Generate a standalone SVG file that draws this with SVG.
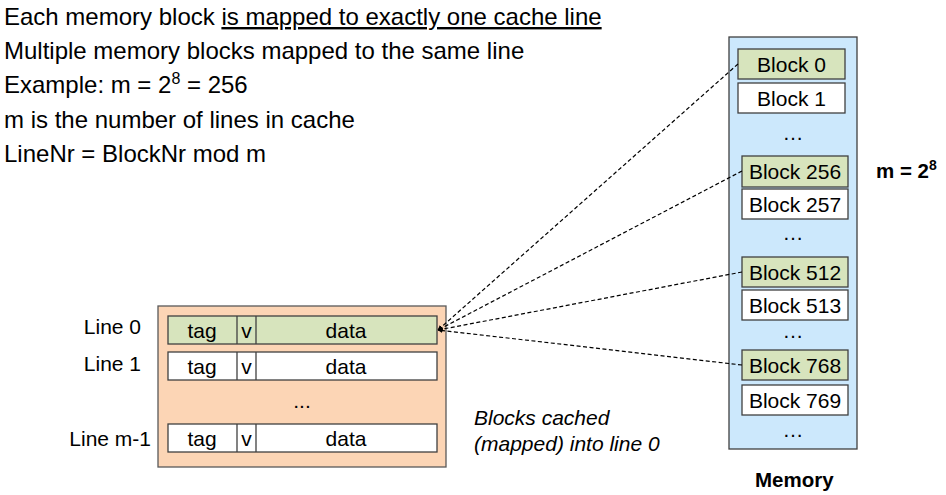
<svg xmlns="http://www.w3.org/2000/svg" width="946" height="495" viewBox="0 0 946 495">
<style>
text{font-family:"Liberation Sans",Arial,sans-serif;fill:#000}
.t{font-size:24px}
.c{font-size:21px;text-anchor:middle}
.lbl{font-size:21px;text-anchor:end}
.b{font-size:20.5px;font-weight:bold}
.i{font-size:21px;font-style:italic}
.g{fill:#d7e4bd;stroke:#404040;stroke-width:1.3}
.w{fill:#fff;stroke:#404040;stroke-width:1.3}
.cn{fill:none;stroke:#000;stroke-width:1.2;stroke-dasharray:4,2.5}
</style>
<defs>
<marker id="ah" viewBox="0 0 10 10" refX="9" refY="5" markerWidth="5" markerHeight="5" orient="auto" markerUnits="userSpaceOnUse">
<path d="M0,0L10,5L0,10z" fill="#000"/>
</marker>
</defs>
<g id="notes">
<text class="t" x="4" y="25">Each memory block <tspan text-decoration="underline">is mapped to exactly one cache line</tspan></text>
<text class="t" x="4" y="59">Multiple memory blocks mapped to the same line</text>
<text class="t" x="4" y="93">Example: m = 2<tspan font-size="16" dy="-9">8</tspan><tspan dy="9"> = 256</tspan></text>
<text class="t" x="4" y="128">m is the number of lines in cache</text>
<text class="t" x="4" y="162">LineNr = BlockNr mod m</text>
</g>
<g id="cache">
<rect x="158" y="306" width="288" height="161" fill="#fcd5b5" stroke="#595959" stroke-width="1.3"/>
<g id="line0">
<rect class="g" x="168" y="316" width="269" height="28"/>
<line x1="237" y1="316" x2="237" y2="344" stroke="#404040" stroke-width="1.3"/>
<line x1="256" y1="316" x2="256" y2="344" stroke="#404040" stroke-width="1.3"/>
<text class="c" x="202" y="338">tag</text><text class="c" x="246.5" y="338">v</text><text class="c" x="346" y="338">data</text>
</g>
<g id="line1">
<rect class="w" x="168" y="352" width="269" height="28"/>
<line x1="237" y1="352" x2="237" y2="380" stroke="#404040" stroke-width="1.3"/>
<line x1="256" y1="352" x2="256" y2="380" stroke="#404040" stroke-width="1.3"/>
<text class="c" x="202" y="374">tag</text><text class="c" x="246.5" y="374">v</text><text class="c" x="346" y="374">data</text>
</g>
<text class="c" x="302" y="408" font-size="18">...</text>
<g id="linem1">
<rect class="w" x="168" y="424" width="269" height="28"/>
<line x1="237" y1="424" x2="237" y2="452" stroke="#404040" stroke-width="1.3"/>
<line x1="256" y1="424" x2="256" y2="452" stroke="#404040" stroke-width="1.3"/>
<text class="c" x="202" y="446">tag</text><text class="c" x="246.5" y="446">v</text><text class="c" x="346" y="446">data</text>
</g>
</g>
<g id="line-labels">
<text class="lbl" x="141" y="334">Line 0</text>
<text class="lbl" x="141" y="371">Line 1</text>
<text class="lbl" x="151" y="446">Line m-1</text>
</g>
<g id="caption">
<text class="i" x="474" y="425">Blocks cached</text>
<text class="i" x="474" y="451">(mapped) into line 0</text>
</g>
<g id="memory">
<rect x="729" y="37" width="128" height="412" fill="#cce8fc" stroke="#404040" stroke-width="1.3"/>
<g id="b0"><rect class="g" x="738" y="49" width="107" height="30"/><text class="c" x="791.5" y="71.5">Block 0</text></g>
<g id="b1"><rect class="w" x="738" y="83" width="107" height="30"/><text class="c" x="791.5" y="105.5">Block 1</text></g>
<text class="c" x="793" y="140">…</text>
<g id="b256"><rect class="g" x="742" y="156" width="106" height="31"/><text class="c" x="795" y="179">Block 256</text></g>
<g id="b257"><rect class="w" x="742" y="189" width="106" height="30"/><text class="c" x="795" y="211.5">Block 257</text></g>
<text class="c" x="793" y="240">…</text>
<g id="b512"><rect class="g" x="742" y="257" width="106" height="30"/><text class="c" x="795" y="279.5">Block 512</text></g>
<g id="b513"><rect class="w" x="742" y="290" width="106" height="30"/><text class="c" x="795" y="312.5">Block 513</text></g>
<text class="c" x="793" y="338">…</text>
<g id="b768"><rect class="g" x="742" y="350" width="106" height="30"/><text class="c" x="795" y="372.5">Block 768</text></g>
<g id="b769"><rect class="w" x="742" y="385" width="106" height="30"/><text class="c" x="795" y="407.5">Block 769</text></g>
<text class="c" x="793" y="437">…</text>
</g>
<text class="b" x="755" y="487">Memory</text>
<text class="b" x="876" y="178">m = 2<tspan font-size="14" dy="-8">8</tspan></text>
<g id="connectors">
<line class="cn" x1="738" y1="64" x2="438" y2="330" marker-end="url(#ah)"/>
<line class="cn" x1="742" y1="171" x2="438" y2="330" marker-end="url(#ah)"/>
<line class="cn" x1="742" y1="272" x2="438" y2="330" marker-end="url(#ah)"/>
<line class="cn" x1="742" y1="365" x2="438" y2="330" marker-end="url(#ah)"/>
</g>
</svg>
